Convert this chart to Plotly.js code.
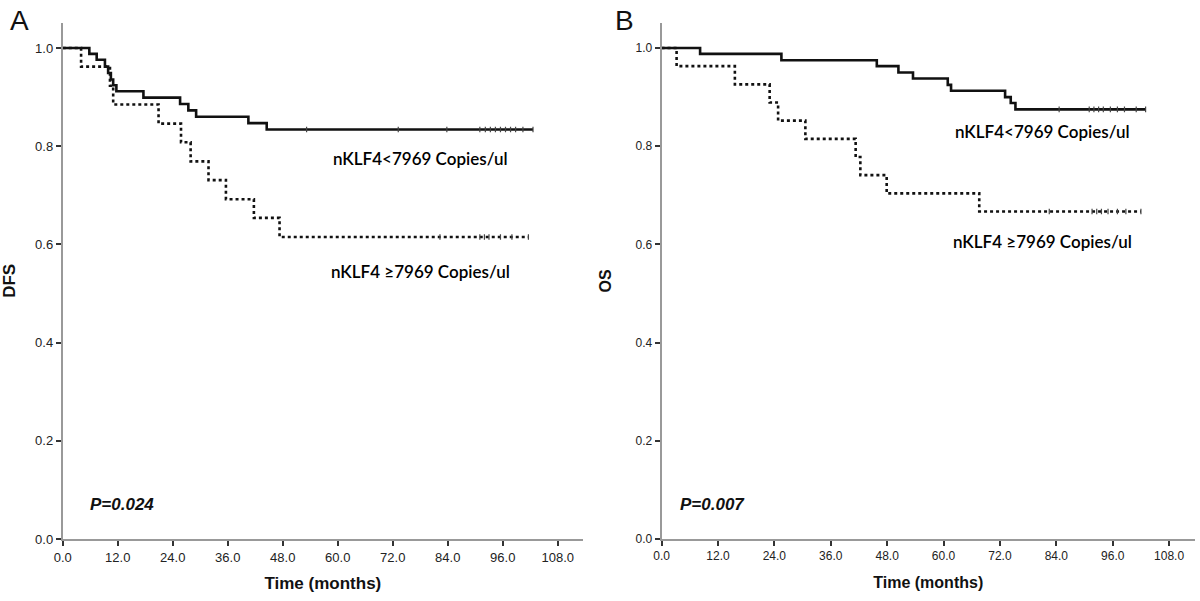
<!DOCTYPE html>
<html>
<head>
<meta charset="utf-8">
<script src="https://cdn.plot.ly/plotly-3.0.1.min.js"></script>
<style>
  body { margin: 0; background: #fff; }
  #km { width: 1200px; height: 601px; }
</style>
</head>
<body>
<div id="km"></div>
<script>
// Kaplan-Meier curves, panel A (DFS) and panel B (OS)

// Panel A - DFS
var dfsLowTime   = [0, 5.8, 7.4, 9.2, 9.9, 10.5, 11.0, 11.7, 17.6, 25.6, 27.4, 29.1, 40.5, 44.5, 102.6];
var dfsLowSurv   = [1, 0.988, 0.976, 0.962, 0.949, 0.936, 0.924, 0.912, 0.899, 0.886, 0.873, 0.860, 0.847, 0.834, 0.834];
var dfsLowCens   = [53.2, 73.2, 83.8, 91.0, 92.2, 93.3, 94.4, 95.5, 96.6, 97.7, 98.8, 100.4, 102.6];

var dfsHighTime  = [0, 4.0, 10.3, 11.0, 20.9, 25.8, 27.9, 31.8, 35.6, 41.7, 47.3, 101.6];
var dfsHighSurv  = [1, 0.962, 0.923, 0.885, 0.846, 0.808, 0.769, 0.731, 0.692, 0.654, 0.615, 0.615];
var dfsHighCens  = [82.3, 91.0, 92.0, 93.0, 95.5, 98.0, 101.6];

// Panel B - OS
var osLowTime    = [0, 8.2, 25.5, 45.8, 50.4, 53.5, 60.9, 61.6, 73.1, 74.3, 75.3, 103.0];
var osLowSurv    = [1, 0.988, 0.975, 0.963, 0.950, 0.938, 0.925, 0.913, 0.900, 0.888, 0.875, 0.875];
var osLowCens    = [84.6, 91.0, 92.0, 93.0, 94.0, 95.5, 97.0, 98.5, 101.0, 103.0];

var osHighTime   = [0, 3.2, 15.6, 23.0, 24.8, 30.6, 41.3, 42.3, 47.9, 67.6, 102.0];
var osHighSurv   = [1, 0.963, 0.926, 0.889, 0.852, 0.815, 0.778, 0.741, 0.704, 0.667, 0.667];
var osHighCens   = [82.5, 91.6, 92.6, 93.6, 95.0, 97.0, 98.8, 102.0];

var xTicks = [0, 12, 24, 36, 48, 60, 72, 84, 96, 108];
var yTicks = [0, 0.2, 0.4, 0.6, 0.8, 1.0];

var lowLabel  = "nKLF4<7969 Copies/ul";
var highLabel = "nKLF4 \u22657969 Copies/ul";

// survival value at a censor time (step function lookup)
function survAt(times, surv, t) {
    var s = surv[0];
    for (var i = 0; i < times.length; i++) {
        if (times[i] <= t) s = surv[i];
    }
    return s;
}

function curve(times, surv, dash, xa, ya) {
    return {
        x: times, y: surv, xaxis: xa, yaxis: ya,
        type: "scatter", mode: "lines",
        line: {shape: "hv", color: "#111", width: 2.6, dash: dash},
        hoverinfo: "skip", showlegend: false
    };
}

function censors(cens, times, surv, xa, ya) {
    return {
        x: cens,
        y: cens.map(t => survAt(times, surv, t)),
        xaxis: xa, yaxis: ya,
        type: "scatter", mode: "markers",
        marker: {symbol: "line-ns", size: 4, line: {color: "#444", width: 1.2}},
        hoverinfo: "skip", showlegend: false
    };
}

var data = [
    curve(dfsLowTime, dfsLowSurv, "solid", "x", "y"),
    curve(dfsHighTime, dfsHighSurv, "dot", "x", "y"),
    censors(dfsLowCens, dfsLowTime, dfsLowSurv, "x", "y"),
    censors(dfsHighCens, dfsHighTime, dfsHighSurv, "x", "y"),
    curve(osLowTime, osLowSurv, "solid", "x2", "y2"),
    curve(osHighTime, osHighSurv, "dot", "x2", "y2"),
    censors(osLowCens, osLowTime, osLowSurv, "x2", "y2"),
    censors(osHighCens, osHighTime, osHighSurv, "x2", "y2")
];

function xAxis(domain, anchor, font, titleFont) {
    return {
        domain: domain, anchor: anchor, range: [0, 113.5],
        tickvals: xTicks, tickformat: ".1f",
        ticks: "outside", ticklen: 5, tickwidth: 2, tickcolor: "#333",
        showline: true, linecolor: "#999", linewidth: 2,
        showgrid: false, zeroline: false,
        tickfont: font,
        title: {text: "Time (months)", font: titleFont, standoff: 14}
    };
}

function yAxis(domain, anchor, text, font, titleFont) {
    return {
        domain: domain, anchor: anchor, range: [0, 1.0515],
        tickvals: yTicks, tickformat: ".1f",
        ticks: "outside", ticklen: 5, tickwidth: 2, tickcolor: "#333",
        showline: true, linecolor: "#999", linewidth: 2,
        showgrid: false, zeroline: false,
        tickfont: font,
        title: {text: text, font: titleFont, standoff: 20}
    };
}

var fontA = {family: "Liberation Sans, Arial", size: 13, color: "#222"};
var fontB = {family: "Liberation Sans Narrow, Liberation Sans", size: 12, color: "#222"};
var titleA = {family: "Liberation Sans, Arial", size: 17, color: "#111", weight: "bold"};
var titleB = {family: "Liberation Sans Narrow, Liberation Sans", size: 16, color: "#111", weight: "bold"};
var curveFont = {family: "Lato, Open Sans", size: 17, color: "#000", weight: 600};
var pFont = {family: "Liberation Sans, Arial", size: 17, color: "#111", weight: "bold", style: "italic"};

var layout = {
    width: 1200, height: 601,
    margin: {l: 0, r: 0, t: 0, b: 0},
    paper_bgcolor: "#fff", plot_bgcolor: "#fff",
    xaxis:  xAxis([0.0523, 0.4858], "y", fontA, titleA),
    yaxis:  yAxis([0.1032, 0.9622], "x", "DFS", fontA, titleA),
    xaxis2: xAxis([0.5513, 0.9958], "y2", fontB, titleB),
    yaxis2: yAxis([0.1032, 0.9622], "x2", "OS", fontB, titleB),
    annotations: [
        {xref: "paper", yref: "paper", x: 0.0065, y: 0.995, xanchor: "left", yanchor: "top",
         text: "A", showarrow: false, font: {family: "Liberation Sans, Arial", size: 28, color: "#111"}},
        {xref: "paper", yref: "paper", x: 0.511, y: 0.995, xanchor: "left", yanchor: "top",
         text: "B", showarrow: false, font: {family: "Liberation Sans, Arial", size: 28, color: "#111"}},
        {xref: "x", yref: "y", x: 78, y: 0.775, text: lowLabel, showarrow: false, font: curveFont},
        {xref: "x", yref: "y", x: 78, y: 0.545, text: highLabel, showarrow: false, font: curveFont},
        {xref: "x2", yref: "y2", x: 81, y: 0.83, text: lowLabel, showarrow: false, font: curveFont},
        {xref: "x2", yref: "y2", x: 81, y: 0.606, text: highLabel, showarrow: false, font: curveFont},
        {xref: "x", yref: "y", x: 13, y: 0.07, text: "P=0.024", showarrow: false, font: pFont},
        {xref: "x2", yref: "y2", x: 10.8, y: 0.07, text: "P=0.007", showarrow: false, font: pFont}
    ]
};

Plotly.newPlot("km", data, layout, {staticPlot: true});
</script>
</body>
</html>
